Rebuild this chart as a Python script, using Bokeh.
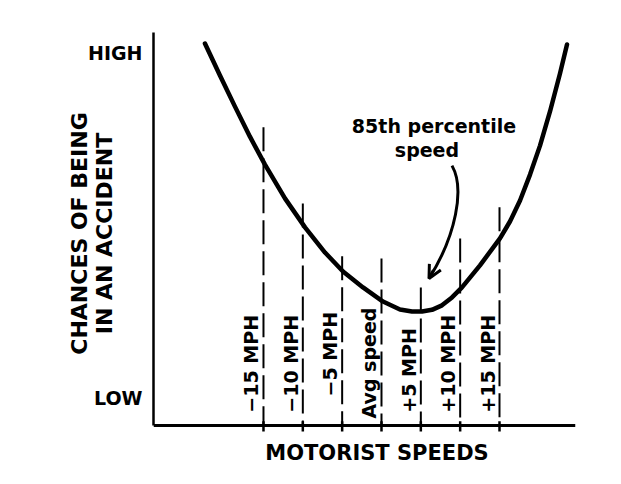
import math
from bokeh.plotting import figure
from bokeh.models import Range1d, FixedTicker, Arrow, OpenHead
from bokeh.embed import file_html
from bokeh.resources import INLINE
from bokeh.core.properties import value

# ---- data (speed offset in MPH from average, chance of accident 0=LOW..100=HIGH) ----
curve_speed = [-22.44, -20.53, -18.62, -16.72, -14.81, -12.27, -9.72, -7.18, -4.89, -2.35,
               0.19, 2.35, 3.88, 5.15, 6.42, 7.69, 8.96, 10.23, 12.52, 15.06,
               16.33, 17.61, 18.88, 20.15, 21.42, 22.69, 23.58]
curve_chance = [102.9, 93.6, 84.6, 75.9, 67.8, 58.0, 49.6, 42.3, 36.8, 32.2,
                28.1, 25.8, 25.2, 25.2, 25.7, 27.0, 29.3, 32.2, 38.6, 46.4,
                51.3, 57.4, 64.9, 73.3, 83.2, 94.2, 102.6]

marker_speed = [-15, -10, -5, 0, 5, 10, 15]
marker_top = [78.6, 56.5, 41.2, 40.6, 32.2, 46.4, 55.4]
marker_labels = ["\u221215 MPH", "\u221210 MPH", "\u22125 MPH", "Avg speed",
                 "+5 MPH", "+10 MPH", "+15 MPH"]
label_base = [-4.1, -4.1, 0.6, -5.8, -4.1, -4.1, -4.1]

y_ticks = [0, 100]
y_tick_labels = {0: "LOW", 100: "HIGH"}

note_text = ["85th percentile", "speed"]
note_x = [6.67, 5.78]
note_y = [79.1, 71.9]

x_title = ["MOTORIST SPEEDS"]
x_title_x = [-0.57]
x_title_y = [-15.94]

# arrow path (bezier) from the note to the +5 MPH line
arrow_start = (8.96, 67.5)
arrow_c0 = (10.61, 60.9)
arrow_c1 = (9.47, 47.2)
arrow_tip = (6.04, 34.8)

# ---- layout / styling constants ----
X_MIN, X_MAX = -28.98, 24.66
Y_MIN, Y_MAX = -19.71, 115.36
AXIS_Y = -7.83           # where the speed axis sits
AXIS_TOP = 106.09        # top end of the chance axis line
TICK_OUT, TICK_IN = 1.75, 1.2
FONT = "DejaVu Sans"

p = figure(frame_width=422, frame_height=466, output_backend="svg", toolbar_location=None,
           x_range=Range1d(X_MIN, X_MAX), y_range=Range1d(Y_MIN, Y_MAX),
           min_border_left=153, min_border_right=46, min_border_top=0,
           min_border_bottom=18)
p.outline_line_color = None
p.xgrid.grid_line_color = None
p.ygrid.grid_line_color = None
p.background_fill_color = "white"
p.border_fill_color = "white"

# x axis (speed axis), placed at AXIS_Y inside the frame
p.xaxis.fixed_location = AXIS_Y
p.xaxis.ticker = FixedTicker(ticks=[])
p.xaxis.axis_line_width = 3
p.xaxis.axis_line_color = "black"
p.xaxis.major_tick_out = 0
p.xaxis.major_tick_in = 0
p.xaxis.major_label_standoff = 0
p.xaxis.minor_tick_line_color = None

# y axis
p.yaxis.bounds = (AXIS_Y, AXIS_TOP)
p.yaxis.ticker = FixedTicker(ticks=y_ticks)
p.yaxis.major_label_overrides = y_tick_labels
p.yaxis.major_label_text_font = FONT
p.yaxis.major_label_text_font_style = "bold"
p.yaxis.major_label_text_font_size = "19px"
p.yaxis.major_label_text_color = "black"
p.yaxis.major_label_standoff = 11
p.yaxis.major_tick_out = 0
p.yaxis.major_tick_in = 0
p.yaxis.major_tick_line_color = None
p.yaxis.minor_tick_line_color = None
p.yaxis.axis_line_width = 2.5
p.yaxis.axis_line_color = "black"
p.yaxis.axis_label = "CHANCES OF BEING\nIN AN ACCIDENT"
p.yaxis.axis_label_text_font = FONT
p.yaxis.axis_label_text_font_style = "bold"
p.yaxis.axis_label_text_font_size = "22px"
p.yaxis.axis_label_text_line_height = 1.0
p.yaxis.axis_label_text_color = "black"
p.yaxis.axis_label_standoff = -32

# tick crosses on the speed axis
p.segment(x0=marker_speed, y0=[AXIS_Y - TICK_OUT] * len(marker_speed),
          x1=marker_speed, y1=[AXIS_Y + TICK_IN] * len(marker_speed),
          line_color="black", line_width=2.5)

# dashed speed markers
p.segment(x0=marker_speed, y0=marker_top, x1=marker_speed, y1=[AXIS_Y] * len(marker_speed),
          line_color="black", line_width=2, line_dash="24 7")

# marker labels (rotated)
p.text(x=marker_speed, y=label_base, text=marker_labels, angle=math.pi / 2,
       text_align="left", text_baseline="middle", x_offset=-12,
       text_font=value(FONT), text_font_style="bold", text_font_size="19px",
       text_color="black")

# accident curve
p.line(curve_speed, curve_chance, line_color="black", line_width=4.5,
       line_join="round", line_cap="round")

# note and arrow
p.text(x=note_x, y=note_y, text=note_text, text_align="center", text_baseline="middle",
       text_font=value(FONT), text_font_style="bold", text_font_size="19px",
       text_color="black")
p.bezier(x0=[arrow_start[0]], y0=[arrow_start[1]], x1=[arrow_tip[0]], y1=[arrow_tip[1]],
         cx0=[arrow_c0[0]], cy0=[arrow_c0[1]], cx1=[arrow_c1[0]], cy1=[arrow_c1[1]],
         line_color="black", line_width=3)
p.add_layout(Arrow(end=OpenHead(size=13, line_width=3, line_color="black"),
                   x_start=6.6, y_start=37.2, x_end=arrow_tip[0], y_end=arrow_tip[1],
                   line_width=3, line_color="black"))

# speed axis title
p.text(x=x_title_x, y=x_title_y, text=x_title, text_align="center", text_baseline="middle",
       text_font=value(FONT), text_font_style="bold", text_font_size="21px",
       text_color="black")

open("out.html", "w").write(file_html(p, INLINE))
